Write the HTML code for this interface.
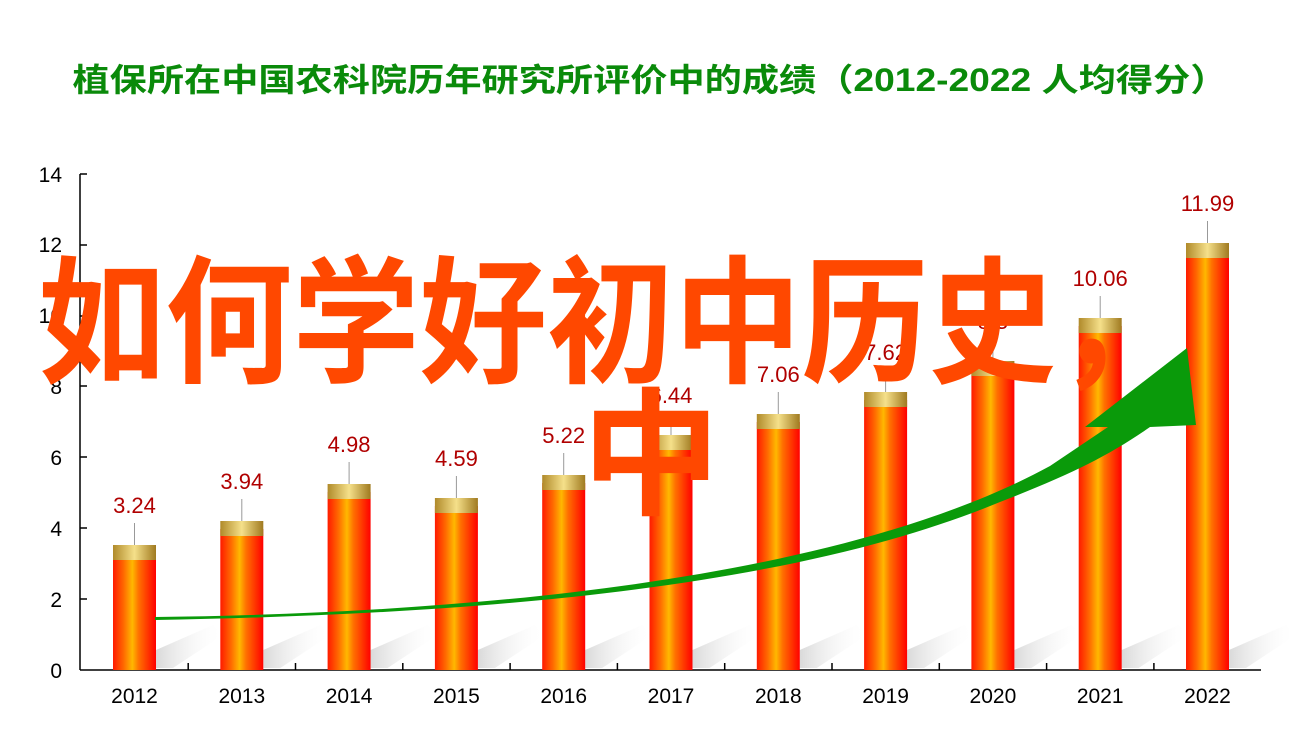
<!DOCTYPE html>
<html><head><meta charset="utf-8"><style>
html,body{margin:0;padding:0;background:#fff;}
svg{display:block;}
</style></head><body>
<svg width="1301" height="730" viewBox="0 0 1301 730" xmlns="http://www.w3.org/2000/svg">
<defs>
<linearGradient id="bar" x1="0" x2="1" y1="0" y2="0">
<stop offset="0" stop-color="#ff1a00"/><stop offset="0.25" stop-color="#ff6a00"/><stop offset="0.45" stop-color="#ffb800"/><stop offset="0.6" stop-color="#ff7000"/><stop offset="1" stop-color="#ff0000"/>
</linearGradient>
<linearGradient id="cap" x1="0" x2="1" y1="0" y2="0">
<stop offset="0" stop-color="#b08a2a"/><stop offset="0.5" stop-color="#f5e08a"/><stop offset="1" stop-color="#a07a20"/>
</linearGradient>
<linearGradient id="sh" x1="0" x2="1" y1="0" y2="0">
<stop offset="0" stop-color="#d0d0d0"/><stop offset="1" stop-color="#ffffff" stop-opacity="0"/>
</linearGradient>
</defs>
<text x="650" y="91" text-anchor="middle" font-family="Liberation Sans, Noto Sans CJK SC, sans-serif" font-weight="bold" font-size="32" fill="#0a8a0a" textLength="1155" lengthAdjust="spacingAndGlyphs">植保所在中国农科院历年研究所评价中的成绩（2012-2022  人均得分）</text>
<g font-family="Liberation Sans, sans-serif" font-size="21" fill="#000" text-anchor="end">
<text x="62" y="678">0</text><text x="62" y="607">2</text><text x="62" y="536">4</text><text x="62" y="465">6</text><text x="62" y="394">8</text><text x="62" y="323">10</text><text x="62" y="252">12</text><text x="62" y="182">14</text>
</g>
<g stroke="#000" stroke-width="1.5">
<line x1="80" y1="174" x2="80" y2="670"/><line x1="80" y1="670" x2="1261" y2="670"/>
<line x1="80" y1="174" x2="87" y2="174"/><line x1="80" y1="245" x2="87" y2="245"/><line x1="80" y1="316" x2="87" y2="316"/><line x1="80" y1="386" x2="87" y2="386"/><line x1="80" y1="457" x2="87" y2="457"/><line x1="80" y1="528" x2="87" y2="528"/><line x1="80" y1="599" x2="87" y2="599"/>
</g>
<g stroke="#000" stroke-width="1.5" id="xt"></g>
<g id="bars"></g>
<path d="M155,617 C500,613 850,575 1050,466 L1108,427 L1085,427 L1187,348 L1196,425 L1150,427 C1110,455 1070,475 1000,502 C800,585 500,614 155,620 Z" fill="#0a9a0a"/>
<g font-family="Liberation Sans, sans-serif" font-size="21" fill="#000" text-anchor="middle" id="xl"></g>
<g font-family="Liberation Sans, Noto Sans CJK SC, sans-serif" font-size="138" font-weight="bold" fill="#ff4800">
<text x="38" y="372" textLength="1145" lengthAdjust="spacingAndGlyphs">如何学好初中历史，</text>
<text x="582" y="504">中</text>
</g>
<script>
var caps=[545,521,484,498,475,435,414,392,361,318,243];
var labs=["3.24","3.94","4.98","4.59","5.22","6.44","7.06","7.62","8.5","10.06","11.99"];
var ns="http://www.w3.org/2000/svg",b=document.getElementById('bars'),xl=document.getElementById('xl'),xt=document.getElementById('xt');
function el(t,a,p){var e=document.createElementNS(ns,t);for(var k in a)e.setAttribute(k,a[k]);p.appendChild(e);return e;}
for(var i=0;i<11;i++){
 var c=134.5+i*107.3,x=c-21.5,t=caps[i];
 el('polygon',{points:(x+43)+',668 '+(x+43)+',650 '+(x+100)+',625 '+(x+110)+',635 '+(x+60)+',668',fill:'url(#sh)',opacity:'0.8'},b);
 el('rect',{x:x,y:t+8,width:43,height:662-t,fill:'url(#bar)'},b);
 el('rect',{x:x,y:t,width:43,height:15,fill:'url(#cap)'},b);
 el('line',{x1:c,y1:t,x2:c,y2:t-22,stroke:'#999','stroke-width':1},b);
 var tx=el('text',{x:c,y:t-32,'text-anchor':'middle','font-family':'Liberation Sans, sans-serif','font-size':'22',fill:'#b00000'},b);tx.textContent=labs[i];
 var xx=el('text',{x:c,y:703},xl);xx.textContent=2012+i;
 if(i>0)el('line',{x1:c-53.6,y1:663,x2:c-53.6,y2:670},xt);
}
</script>
</svg>
</body></html>
